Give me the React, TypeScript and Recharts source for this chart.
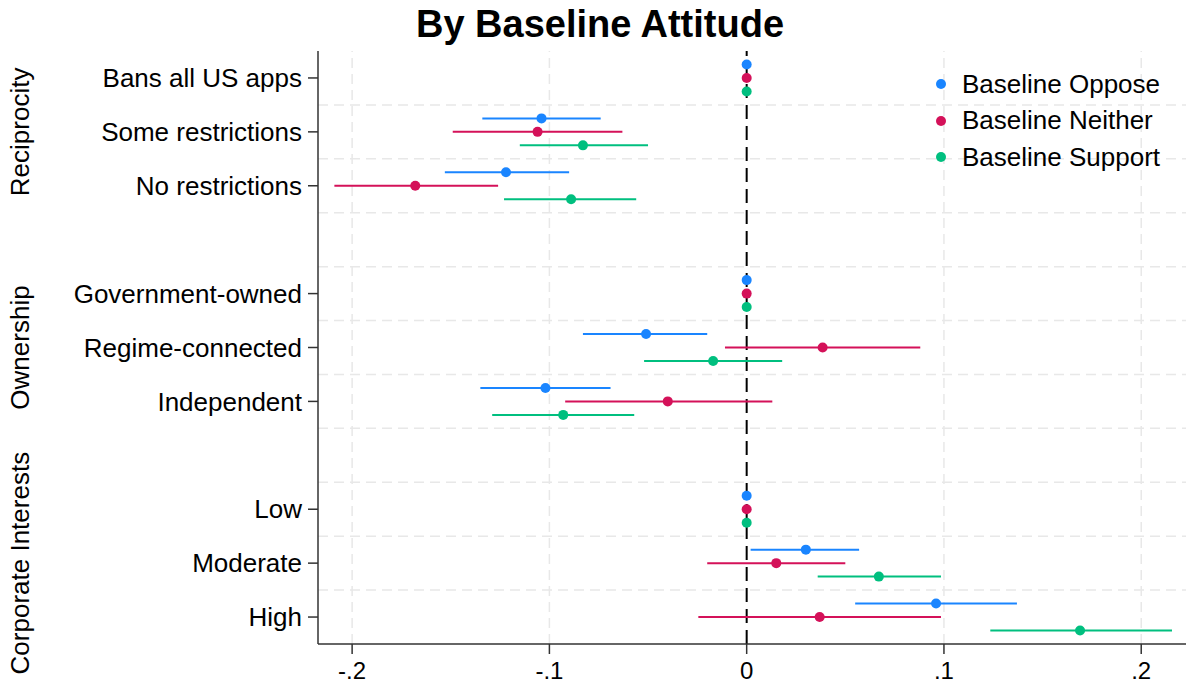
import React from "react";
import {
  ScatterChart,
  Scatter,
  XAxis,
  YAxis,
  ErrorBar,
  ReferenceLine,
  Legend,
} from "recharts";

// ---------- data ----------
const groups = ["Reciprocity", "Ownership", "Corporate Interests"];
const levels = [
  "Bans all US apps",
  "Some restrictions",
  "No restrictions",
  "Government-owned",
  "Regime-connected",
  "Independent",
  "Low",
  "Moderate",
  "High",
];
const levelGroup = [0, 0, 0, 1, 1, 1, 2, 2, 2];

const seriesNames = ["Baseline Oppose", "Baseline Neither", "Baseline Support"];
const seriesColors = ["#1A85FF", "#D41159", "#00BF7F"];

const opposeEst = [0, -0.104, -0.122, 0, -0.051, -0.102, 0, 0.03, 0.096];
const opposeLo = [0, -0.134, -0.153, 0, -0.083, -0.135, 0, 0.002, 0.055];
const opposeHi = [0, -0.074, -0.09, 0, -0.02, -0.069, 0, 0.057, 0.137];

const neitherEst = [0, -0.106, -0.168, 0, 0.0385, -0.04, 0, 0.015, 0.037];
const neitherLo = [0, -0.149, -0.209, 0, -0.011, -0.092, 0, -0.02, -0.0245];
const neitherHi = [0, -0.063, -0.126, 0, 0.088, 0.013, 0, 0.05, 0.0985];

const supportEst = [0, -0.083, -0.089, 0, -0.017, -0.093, 0, 0.067, 0.169];
const supportLo = [0, -0.115, -0.123, 0, -0.052, -0.129, 0, 0.036, 0.1235];
const supportHi = [0, -0.05, -0.056, 0, 0.018, -0.057, 0, 0.0985, 0.2156];

const xTicks = [-0.2, -0.1, 0, 0.1, 0.2];
const xTickLabels = ["-.2", "-.1", "0", ".1", ".2"];

// ---------- derived ----------
const FONT = "'Liberation Sans', Arial, Helvetica, sans-serif";
const FS = 26;
const rowOf = (i: number) => i + levelGroup[i] + 1; // one blank row between groups
const levelRows = levels.map((_, i) => rowOf(i));
const gridRows: number[] = [];
for (let r = 1.5; r < levelRows[levelRows.length - 1]; r += 1) gridRows.push(r);
const groupRows = groups.map((_, g) => {
  const rows = levels.map((_, i) => i).filter((i) => levelGroup[i] === g).map(rowOf);
  return (rows[0] + rows[rows.length - 1]) / 2;
});

const est = [opposeEst, neitherEst, supportEst];
const lo = [opposeLo, neitherLo, supportLo];
const hi = [opposeHi, neitherHi, supportHi];
const offsets = [-0.25, 0, 0.25];

const seriesData = seriesNames.map((_, s) =>
  levels.map((_, i) => ({
    x: est[s][i],
    y: rowOf(i) + offsets[s],
    err: [est[s][i] - lo[s][i], hi[s][i] - est[s][i]],
  }))
);

const GroupLabel = (props: any) => {
  const { viewBox, value } = props;
  const y = viewBox.y;
  const x = 29;
  return (
    <text
      x={x}
      y={y}
      transform={`rotate(-90, ${x}, ${y})`}
      textAnchor="middle"
      fontSize={FS}
      fontFamily={FONT}
      fill="#000"
    >
      {value}
    </text>
  );
};

const LegendContent = () => (
  <div style={{ fontFamily: FONT, fontSize: FS, color: "#000" }}>
    {seriesNames.map((n, s) => (
      <div key={n} style={{ display: "flex", alignItems: "center", height: 36.5 }}>
        <svg width={22} height={22} style={{ marginRight: 10 }}>
          <circle cx={11} cy={11} r={5} fill={seriesColors[s]} />
        </svg>
        <span>{n}</span>
      </div>
    ))}
  </div>
);

export default function App() {
  return (
    <div style={{ position: "absolute", left: 0, top: 0, width: 1186, height: 684, background: "#fff" }}>
      <div
        style={{
          position: "absolute",
          left: 0,
          top: 2,
          width: 1200,
          textAlign: "center",
          fontFamily: FONT,
          fontWeight: "bold",
          fontSize: 38,
          color: "#000",
          lineHeight: "44px",
        }}
      >
        By Baseline Attitude
      </div>
      <ScatterChart
        width={1186}
        height={684}
        margin={{ top: 51, right: 0, bottom: 0, left: 0 }}
      >
        <XAxis
          type="number"
          dataKey="x"
          domain={[-0.2173, 0.2227]}
          allowDataOverflow
          ticks={xTicks}
          tickFormatter={(v: number) => xTickLabels[xTicks.indexOf(v)] ?? String(v)}
          height={40}
          tickSize={10}
          tickMargin={8}
          stroke="#333"
          strokeWidth={1.5}
          tick={{ fill: "#000", fontSize: 24, fontFamily: FONT }}
        />
        <YAxis
          type="number"
          dataKey="y"
          domain={[0.5, 11.5]}
          allowDataOverflow
          reversed
          ticks={levelRows}
          interval={0}
          tickFormatter={(v: number) => levels[levelRows.indexOf(v)] ?? ""}
          width={318}
          tickSize={10}
          tickMargin={6}
          stroke="#333"
          strokeWidth={1.5}
          tick={{ fill: "#000", fontSize: FS, fontFamily: FONT }}
        />
        {gridRows.map((r) => (
          <ReferenceLine key={`gy${r}`} y={r} stroke="#e8e8e8" strokeWidth={1.5} strokeDasharray="10 6" />
        ))}
        {xTicks
          .filter((v) => v !== 0)
          .map((v) => (
            <ReferenceLine key={`gx${v}`} x={v} stroke="#e8e8e8" strokeWidth={1.5} strokeDasharray="10 6" />
          ))}
        {groups.map((g, k) => (
          <ReferenceLine
            key={`grp${g}`}
            y={groupRows[k]}
            stroke="none"
            label={<GroupLabel value={g} />}
          />
        ))}
        <ReferenceLine x={0} stroke="#000" strokeWidth={2} strokeDasharray="14 7" />
        {seriesNames.map((n, s) => (
          <Scatter
            key={n}
            name={n}
            data={seriesData[s]}
            fill={seriesColors[s]}
            isAnimationActive={false}
            shape={(p: any) => <circle cx={p.cx} cy={p.cy} r={5} fill={seriesColors[s]} />}
          >
            <ErrorBar
              dataKey="err"
              direction="x"
              width={0}
              stroke={seriesColors[s]}
              strokeWidth={2}
              isAnimationActive={false}
            />
          </Scatter>
        ))}
        <Legend
          layout="horizontal"
          verticalAlign="middle"
          align="center"
          content={<LegendContent />}
          wrapperStyle={{ position: "absolute", left: 930, top: 66, width: 256 }}
        />
      </ScatterChart>
    </div>
  );
}
